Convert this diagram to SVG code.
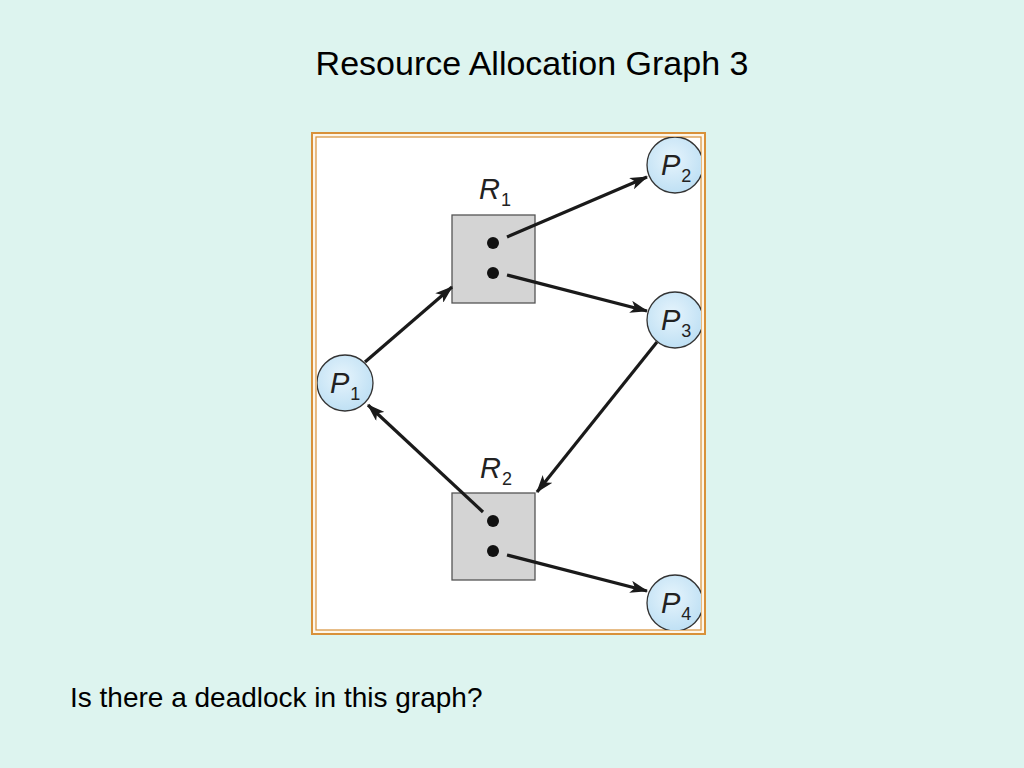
<svg xmlns="http://www.w3.org/2000/svg" width="1024" height="768" viewBox="0 0 1024 768">
<defs>
<style>
.title{font-family:"Liberation Sans",Arial,sans-serif;font-size:34px;fill:#000}
.body{font-family:"Liberation Sans",Arial,sans-serif;font-size:28px;fill:#000}
.lbl{font-family:"Liberation Sans",Arial,sans-serif;font-style:italic;font-size:29px;fill:#222}
.sub{font-family:"Liberation Sans",Arial,sans-serif;font-size:18px;fill:#222}
.proc{fill:url(#pg);stroke:#333;stroke-width:1.3}
.res{fill:#d4d4d4;stroke:#555;stroke-width:1.3}
.dot{fill:#111}
.edge{stroke:#1a1a1a;stroke-width:3.2;fill:none;marker-end:url(#ah)}
</style>
<radialGradient id="pg" cx="0.45" cy="0.4" r="0.6">
<stop offset="0" stop-color="#e6f4fc"/>
<stop offset="1" stop-color="#bfe0f4"/>
</radialGradient>
<marker id="ah" viewBox="0 0 16 11" refX="15" refY="5.5" markerWidth="5.6" markerHeight="3.85" orient="auto" markerUnits="strokeWidth">
<path d="M0,0 L16,5.5 L0,11 L4,5.5 Z" fill="#1a1a1a"/>
</marker>
<clipPath id="fc"><rect x="317" y="137" width="384" height="493"/></clipPath>
</defs>
<rect width="1024" height="768" fill="#ddf4ef"/>
<text class="title" x="532" y="75" text-anchor="middle">Resource Allocation Graph 3</text>
<g id="frame">
<rect x="312" y="133" width="393" height="501" fill="#fdf6ea" stroke="#d8913a" stroke-width="2"/>
<rect x="316" y="137" width="385" height="493" fill="#fff" stroke="#d8913a" stroke-width="1.2"/>
</g>
<g clip-path="url(#fc)">
<g id="R1">
<rect class="res" x="452" y="215" width="83" height="88"/>
<circle class="dot" cx="493" cy="243" r="6"/>
<circle class="dot" cx="493" cy="273" r="6"/>
<text class="lbl" x="479" y="199">R<tspan class="sub" dy="7" dx="1" font-style="normal">1</tspan></text>
</g>
<g id="R2">
<rect class="res" x="452" y="493" width="83" height="87"/>
<circle class="dot" cx="493" cy="521" r="6"/>
<circle class="dot" cx="493" cy="551" r="6"/>
<text class="lbl" x="480" y="478">R<tspan class="sub" dy="7" dx="1" font-style="normal">2</tspan></text>
</g>
<g id="P1">
<circle class="proc" cx="345" cy="383" r="28"/>
<text class="lbl" x="330" y="393">P<tspan class="sub" dy="7" dx="1" font-style="normal">1</tspan></text>
</g>
<g id="P2">
<circle class="proc" cx="675" cy="165" r="28"/>
<text class="lbl" x="661" y="175">P<tspan class="sub" dy="7" dx="1" font-style="normal">2</tspan></text>
</g>
<g id="P3">
<circle class="proc" cx="675" cy="320" r="28"/>
<text class="lbl" x="661" y="330">P<tspan class="sub" dy="7" dx="1" font-style="normal">3</tspan></text>
</g>
<g id="P4">
<circle class="proc" cx="675" cy="603" r="28"/>
<text class="lbl" x="661" y="613">P<tspan class="sub" dy="7" dx="1" font-style="normal">4</tspan></text>
</g>
<g id="connectors">
<line class="edge" x1="365" y1="362" x2="452" y2="287"/>
<line class="edge" x1="507" y1="237" x2="647" y2="177"/>
<line class="edge" x1="507" y1="275" x2="647" y2="311"/>
<line class="edge" x1="657" y1="342" x2="537" y2="492"/>
<line class="edge" x1="483" y1="512" x2="368" y2="405"/>
<line class="edge" x1="507" y1="555" x2="647" y2="591"/>
</g>
</g>
<text class="body" x="70" y="707">Is there a deadlock in this graph?</text>
</svg>
